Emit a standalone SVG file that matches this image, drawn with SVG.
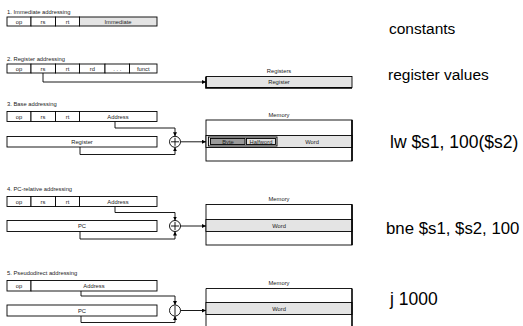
<svg xmlns="http://www.w3.org/2000/svg" width="523" height="326" viewBox="0 0 523 326">
<style>
text{font-family:"Liberation Sans",Arial,sans-serif;fill:#222}
.s{font-size:5.8px}
.c{font-size:5.8px;text-anchor:middle}
.big{font-size:17.5px;fill:#000}
.med{font-size:15.5px;fill:#000}
.box{fill:#fff;stroke:#000;stroke-width:0.9}
.g{fill:#e4e4e4;stroke:#000;stroke-width:0.9}
.ln{fill:none;stroke:#000;stroke-width:0.9}
.edge{fill:none;stroke:#000;stroke-width:1.6}
</style>
<defs>
<marker id="ah" viewBox="0 0 6 6" refX="6" refY="3" markerWidth="4" markerHeight="4" orient="auto" markerUnits="userSpaceOnUse"><path d="M0,0L6,3L0,6z" fill="#000"/></marker>
</defs>
<rect width="523" height="326" fill="#fff"/>

<g id="mode1">
<text class="s" x="7" y="14">1. Immediate addressing</text>
<rect class="box" x="7" y="17" width="24" height="9"/>
<rect class="box" x="31" y="17" width="24.5" height="9"/>
<rect class="box" x="55.5" y="17" width="24" height="9"/>
<rect class="g" x="79.5" y="17" width="77.5" height="9"/>
<text class="c" x="19" y="23.5">op</text>
<text class="c" x="43" y="23.5">rs</text>
<text class="c" x="67.5" y="23.5">rt</text>
<text class="c" x="118" y="23.5">Immediate</text>
</g>

<g id="mode2">
<text class="s" x="7" y="61">2. Register addressing</text>
<rect class="box" x="7" y="64" width="24" height="9"/>
<rect class="box" x="31" y="64" width="24.5" height="9"/>
<rect class="box" x="55.5" y="64" width="24" height="9"/>
<rect class="box" x="79.5" y="64" width="25.5" height="9"/>
<rect class="box" x="105" y="64" width="24.5" height="9"/>
<rect class="box" x="129.5" y="64" width="27.5" height="9"/>
<text class="c" x="19" y="70.5">op</text>
<text class="c" x="43" y="70.5">rs</text>
<text class="c" x="67.5" y="70.5">rt</text>
<text class="c" x="92.3" y="70.5">rd</text>
<text class="c" x="117.3" y="70.5">. . .</text>
<text class="c" x="143.3" y="70.5">funct</text>
</g>

<g id="registers">
<text class="c" x="279" y="73">Registers</text>
<rect class="g" x="206" y="76.5" width="146" height="11"/>
<path class="edge" d="M206,77V88H352"/>
<text class="c" x="279" y="84">Register</text>
</g>

<g id="mode3">
<text class="s" x="7" y="106">3. Base addressing</text>
<rect class="box" x="7" y="111.5" width="24" height="10"/>
<rect class="box" x="31" y="111.5" width="24.5" height="10"/>
<rect class="box" x="55.5" y="111.5" width="24" height="10"/>
<rect class="box" x="79.5" y="111.5" width="77.5" height="10"/>
<text class="c" x="19" y="118.5">op</text>
<text class="c" x="43" y="118.5">rs</text>
<text class="c" x="67.5" y="118.5">rt</text>
<text class="c" x="118" y="118.5">Address</text>
<rect class="box" x="7" y="136.5" width="150" height="10.5"/>
<text class="c" x="82" y="144">Register</text>
</g>
<g id="add3">
<circle class="box" cx="175" cy="141.8" r="5.5"/>
<path class="ln" d="M175,137.8V145.8M171,141.8H179"/>
</g>
<g id="memory3">
<text class="c" x="279" y="117">Memory</text>
<rect class="box" x="206" y="120" width="146" height="41"/>
<rect class="g" x="206" y="135.5" width="146" height="12"/>
<path class="edge" d="M352,120V161"/>
<rect x="208.5" y="137" width="68.5" height="9" fill="none" stroke="#000" stroke-width="0.9"/>
<rect x="210.5" y="138.5" width="34.5" height="6" fill="#9a9a9a" stroke="#000" stroke-width="0.9"/>
<rect x="246.5" y="138.5" width="29" height="6" fill="#ddd" stroke="#000" stroke-width="0.9"/>
<text class="c" x="228" y="143.5">Byte</text>
<text class="c" x="261" y="143.5">Halfword</text>
<text class="c" x="312" y="143.5">Word</text>
</g>

<g id="mode4">
<text class="s" x="7" y="191">4. PC-relative addressing</text>
<rect class="box" x="7" y="196.5" width="24" height="10"/>
<rect class="box" x="31" y="196.5" width="24.5" height="10"/>
<rect class="box" x="55.5" y="196.5" width="24" height="10"/>
<rect class="box" x="79.5" y="196.5" width="77.5" height="10"/>
<text class="c" x="19" y="203.5">op</text>
<text class="c" x="43" y="203.5">rs</text>
<text class="c" x="67.5" y="203.5">rt</text>
<text class="c" x="118" y="203.5">Address</text>
<rect class="box" x="7" y="220.5" width="150" height="11"/>
<text class="c" x="82" y="228">PC</text>
</g>
<g id="add4">
<circle class="box" cx="175" cy="226" r="5.5"/>
<path class="ln" d="M175,222V230M171,226H179"/>
</g>
<g id="memory4">
<text class="c" x="279" y="201">Memory</text>
<rect class="box" x="206" y="204.5" width="146" height="40.5"/>
<rect class="g" x="206" y="219.5" width="146" height="12"/>
<path class="edge" d="M352,204.5V245"/>
<text class="c" x="279" y="227.5">Word</text>
</g>

<g id="mode5">
<text class="s" x="7" y="275">5. Pseudodirect addressing</text>
<rect class="box" x="7" y="280.5" width="24" height="10.5"/>
<rect class="box" x="31" y="280.5" width="126" height="10.5"/>
<text class="c" x="19" y="287.5">op</text>
<text class="c" x="94" y="287.5">Address</text>
<rect class="box" x="7" y="305" width="150" height="11"/>
<text class="c" x="82" y="312.5">PC</text>
</g>
<g id="concat5">
<circle class="box" cx="175" cy="310.5" r="5.5"/>
<path class="ln" d="M175,306V315"/>
</g>
<g id="memory5">
<text class="c" x="279" y="285">Memory</text>
<path class="ln" d="M206,327V288.5H352"/>
<rect class="g" x="206" y="302.5" width="146" height="12"/>
<path class="edge" d="M352,288.5V327"/>
<text class="c" x="279" y="310.5">Word</text>
</g>

<g id="connectors">
<path class="ln" d="M43,73V82H206" marker-end="url(#ah)"/>
<path class="ln" d="M115,121.5V128H175V136.3" marker-end="url(#ah)"/>
<path class="ln" d="M80,147V154.5H175V147.3" marker-end="url(#ah)"/>
<path class="ln" d="M180.5,141.8H206" marker-end="url(#ah)"/>
<path class="ln" d="M115,206.5V212.5H175V220.5" marker-end="url(#ah)"/>
<path class="ln" d="M80,231.5V239H175V231.5" marker-end="url(#ah)"/>
<path class="ln" d="M180.5,226H206" marker-end="url(#ah)"/>
<path class="ln" d="M81,291V296H175V305" marker-end="url(#ah)"/>
<path class="ln" d="M81,316V322.5H175V316" marker-end="url(#ah)"/>
<path class="ln" d="M180.5,310.5H206" marker-end="url(#ah)"/>
</g>

<g id="examples">
<text class="med" x="389" y="33.5">constants</text>
<text class="med" x="388" y="80">register values</text>
<text class="big" x="390" y="148">lw $s1, 100($s2)</text>
<text class="big" x="386" y="233.5" style="font-size:16.8px">bne $s1, $s2, 100</text>
<text class="big" x="390" y="305">j 1000</text>
</g>
</svg>
